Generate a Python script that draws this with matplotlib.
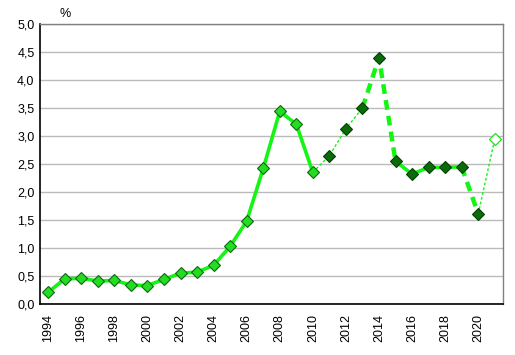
import matplotlib.pyplot as plt
import numpy as np

years = list(range(1994, 2022))
values = [0.21, 0.45, 0.46, 0.41, 0.42, 0.34, 0.33, 0.44, 0.55, 0.57,
          0.69, 1.03, 1.48, 2.42, 3.44, 3.21, 2.35, 2.65, 3.13, 3.50,
          4.40, 2.55, 2.32, 2.44, 2.44, 2.45, 1.61, 2.94]
tick_years = list(range(1994, 2021, 2))

# (start year, end year, line kind)
segments = [(1994, 2010, 'solid'), (2010, 2013, 'dotted'), (2013, 2015, 'dashed'),
            (2015, 2019, 'solid'), (2019, 2020, 'dashed'), (2020, 2021, 'dotted')]
light_marker_years = range(1994, 2011)
dark_marker_years = range(2011, 2021)
open_marker_years = [2021]

line_col = '#14F514'
styles = {
    'solid': dict(lw=2.6, ls='-'),
    'dotted': dict(lw=1.0, ls=(0, (2, 1.5))),
    'dashed': dict(lw=3.2, ls=(0, (2.2, 1.4))),
}

plt.rcParams['font.family'] = ['Liberation Sans', 'DejaVu Sans']

fig = plt.figure(figsize=(5.15, 3.55), dpi=100)
ax = fig.add_axes([40 / 515, 51 / 355, 463 / 515, 280 / 355])

yr = np.array(years)
val = np.array(values)

for y0, y1, kind in segments:
    m = (yr >= y0) & (yr <= y1)
    ax.plot(yr[m], val[m], color=line_col, zorder=2, **styles[kind])

def pick(ys):
    m = np.isin(yr, list(ys))
    return yr[m], val[m]

x, y = pick(light_marker_years)
ax.plot(x, y, 'D', ms=6.3, mfc='#22DD22', mec='#116611', mew=0.8, zorder=3)
x, y = pick(dark_marker_years)
ax.plot(x, y, 'D', ms=6.3, mfc='#0B6B0B', mec='#034003', mew=0.8, zorder=3)
x, y = pick(open_marker_years)
ax.plot(x, y, 'D', ms=5.8, mfc='white', mec='#22DD22', mew=0.9, zorder=3)

ax.set_xlim(1993.5, 2021.5)
ax.set_ylim(0, 5)
ax.set_yticks(np.arange(0, 5.01, 0.5))
ax.set_yticklabels([f"{v:.1f}".replace('.', ',') for v in np.arange(0, 5.01, 0.5)])
ax.set_xticks(tick_years)
ax.set_xticklabels([str(t) for t in tick_years], rotation=90)
ax.tick_params(length=0, labelsize=9, pad=7)
ax.tick_params(axis='y', pad=4)

ax.yaxis.grid(True, color='#BBBBBB', lw=1)
ax.set_axisbelow(True)
for s in ['left', 'bottom']:
    ax.spines[s].set_color('black')
    ax.spines[s].set_linewidth(1.2)
for s in ['top', 'right']:
    ax.spines[s].set_color('#808080')
    ax.spines[s].set_linewidth(1.0)

fig.text(60 / 515, 1 - 14 / 355, '%', fontsize=9, va='center', ha='left')

fig.savefig('out.png', dpi=100)
